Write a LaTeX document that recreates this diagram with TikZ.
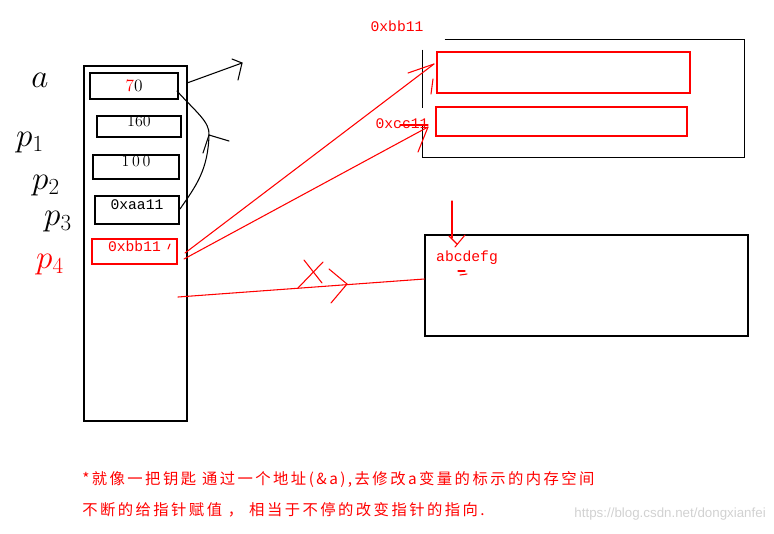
\documentclass[tikz,border=0pt]{standalone}
\usepackage{fontspec}
\setmonofont{Liberation Mono}
\newfontfamily\cjk[LetterSpace=16]{Noto Sans CJK SC}
\newfontfamily\wmfont{Liberation Sans}
\usetikzlibrary{fit}

\begin{document}
\begin{tikzpicture}[
x=0.75pt,y=-0.75pt,
cell/.style={draw,line width=0.9pt,inner sep=0pt,font=\fontsize{11}{13}\ttfamily},
redcell/.style={cell,draw=red,text=red},
frame/.style={inner sep=0pt},
pen/.style={line width=0.8pt,line cap=round},
redpen/.style={pen,red},
hand/.style={font=\fontsize{25}{27}\selectfont},
addr/.style={font=\fontsize{11}{13}\ttfamily,text=red,inner sep=0pt},
note/.style={font=\fontsize{11.5}{14}\cjk,text=red,anchor=west,inner sep=0pt}
]
\useasboundingbox (0,0) rectangle (774,533);

% stack column and its cells
\node[draw,line width=0.9pt,frame,fit={(84,66) (187,421)}] (stack) {};
\node[cell,fit={(90,73) (178,99)}] (ca) {};
\node[font=\fontsize{13}{15}\selectfont] at (ca) {\textcolor{red}{7}0};
\node[cell,fit={(97,116) (181,137)},font=\fontsize{12}{14}\selectfont] (cp1) {160};
\node[cell,fit={(93,155) (179,179)},font=\fontsize{12}{14}\selectfont] (cp2) {1\,0\,0};
\node[cell,fit={(95,196) (179,224)}] (cp3) {0xaa11};
\node[redcell,fit={(92,239) (177,264)}] (cp4) {0xbb11};
\draw[redpen] (170,244) -- (168,249);

% variable names
\node[hand] (la) at (40,80) {$a$};
\node[hand] (lp1) at (30,143) {$p_1$};
\node[hand] (lp2) at (46,186) {$p_2$};
\node[hand] (lp3) at (58,222) {$p_3$};
\node[hand,text=red] (lp4) at (50,265) {$p_4$};

% heap block behind 0xbb11
\node[frame,fit={(423,40) (744,157)}] (heap) {};
\draw[line width=0.9pt] (heap.north west) ++(22,0) -- (heap.north east) -- (heap.south east)
  -- (heap.south west) -- ++(0,-31);
\draw[line width=0.9pt] (heap.north west) ++(0,10) -- ++(0,58);
\node[draw=red,line width=0.9pt,frame,fit={(437,52) (690,93)}] (rb1) {};
\node[draw=red,line width=0.9pt,frame,fit={(436,107) (687,136)}] (rb2) {};
\node[addr] (lbb) at (397,26) {0xbb11};
\node[addr] (lcc) at (402,124) {0xcc11};
\draw[redpen] (400,125) -- (428,125);

% string block
\node[draw,line width=0.9pt,frame,fit={(425,235) (748,336)}] (str) {};
\node[addr] (abc) at (467,258) {abcdefg};
\draw[redpen] (458,271) -- (465,271);
\draw[redpen] (460,275) -- (467,274);

% black pointer strokes
\coordinate (ta) at (242,63);
\draw[pen] (187,83) -- (ta);
\draw[pen] (232,59) -- (ta) -- (238,80);
\coordinate (tc) at (209,135);
\draw[pen] (177,91) .. controls (196,112) and (210,122) .. (tc)
  .. controls (208,170) and (196,186) .. (180,209);
\draw[pen] (229,141) -- (tc) -- (203,153);

% red pointer strokes
\coordinate (t1) at (434,64);
\coordinate (t2) at (428,127);
\draw[redpen] (185,253) -- (t1);
\draw[redpen] (408,73) -- (t1);
\draw[redpen] (431,94) -- (433,79);
\draw[redpen] (184,259) -- (t2);
\draw[redpen] (t2) -- (418,152);
\coordinate (t3) at (452,238);
\draw[redpen] (452,201) -- (t3);
\draw[redpen] (449,236) -- (457,244);
\draw[redpen] (465,235) -- (455,247);
\draw[redpen] (178,297) -- (str.west |- 0,279);
\draw[redpen] (304,260) -- (322,283);
\draw[redpen] (323,262) -- (298,288);
\draw[redpen] (329,269) -- (347,284) -- (331,303);

% notes
\node[note] (n1) at (82,479) {*就像一把钥匙 通过一个地址(\&a),去修改a变量的标示的内存空间};
\node[note] (n2) at (82,510) {不断的给指针赋值 ， 相当于不停的改变指针的指向.};
\node[font=\fontsize{10}{12}\wmfont,text=black!18,anchor=east,inner sep=0pt] (wm) at (766,514) {https://blog.csdn.net/dongxianfei};
\end{tikzpicture}
\end{document}
